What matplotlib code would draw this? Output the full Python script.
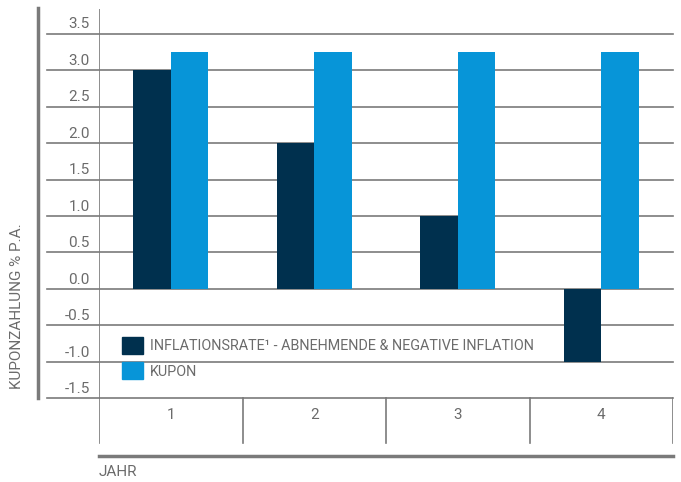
import matplotlib
matplotlib.use("Agg")
import matplotlib.pyplot as plt
from matplotlib.patches import Patch
import numpy as np

plt.rcParams['font.family'] = ['Roboto', 'DejaVu Sans']

years = ["1", "2", "3", "4"]
inflation = [3.0, 2.0, 1.0, -1.0]
kupon = [3.25, 3.25, 3.25, 3.25]
yticks = [-1.5, -1.0, -0.5, 0.0, 0.5, 1.0, 1.5, 2.0, 2.5, 3.0, 3.5]

dark = "#00304e"
blue = "#0795d8"
grey = "#7a7a7a"
txt = "#6b6b6b"

fig = plt.figure(figsize=(6.81, 4.82), dpi=100)
ax = fig.add_axes([99/681, 26/482, 574/681, 447/482])
ax.set_xlim(-0.5, 3.5)
ax.set_ylim(-2.288, 3.836)
ax.axis("off")

x = np.arange(len(years))
w = 0.26
ax.bar(x - w/2, inflation, w, color=dark, zorder=3)
ax.bar(x + w/2, kupon, w, color=blue, zorder=3)

# gridlines + tick labels
tr = ax.get_yaxis_transform()
for v in yticks:
    ax.plot([-0.0906, 1], [v, v], transform=tr, color=grey, lw=1.2, clip_on=False, zorder=1)
    ax.text(-0.0157, v + 0.03, "%.1f" % v, transform=tr, ha="right", va="bottom",
            fontsize=11, color=txt)

# category boxes
for k in range(len(years) + 1):
    ax.plot([k - 0.5, k - 0.5], [-2.11, -1.5], color=grey, lw=1.2, zorder=1)
ax.plot([-0.5, -0.5], [-1.5, 3.836], color=grey, lw=1.2, zorder=1)
for i, lab in enumerate(years):
    ax.text(i, -1.73, lab, ha="center", va="center", fontsize=11, color=txt)

# bottom thick line
ax.plot([-0.5, 3.5], [-2.288, -2.288], color=grey, lw=2.5, clip_on=False, zorder=1)
fig.text(99/681, 1 - 472/482, "JAHR", ha="left", va="center", fontsize=11, color=txt)

# left thick line and y label
fig.add_artist(plt.Line2D([38/681, 38/681], [1 - 8/482, 1 - 398/482], color=grey, lw=2.5))
fig.text(17/681, 1 - 306/482, "KUPONZAHLUNG % P.A.", rotation=90, ha="center", va="center",
         fontsize=11, color=txt)

handles = [Patch(color=dark), Patch(color=blue)]
labels = ["INFLATIONSRATE\u00b9 - ABNEHMENDE & NEGATIVE INFLATION", "KUPON"]
leg = fig.legend(handles, labels, loc="upper left", bbox_to_anchor=(112/681, 1 - 327/482),
                 frameon=False, fontsize=10.4, handlelength=1.45, handleheight=1.45,
                 handletextpad=0.45, labelspacing=0.55, borderpad=0.2)
for t in leg.get_texts():
    t.set_color(txt)

fig.savefig("out.png", dpi=100)
